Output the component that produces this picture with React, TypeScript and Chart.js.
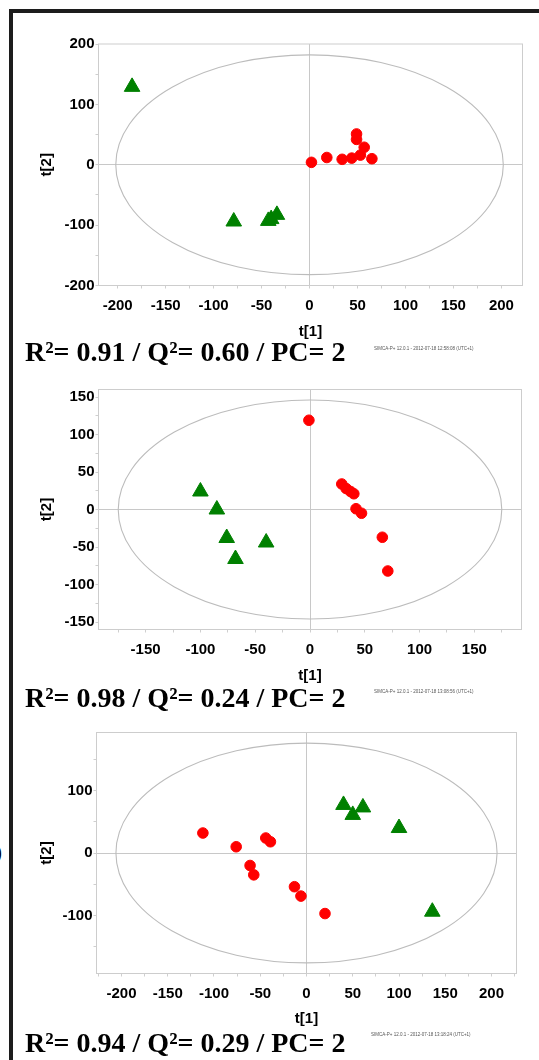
import React, { useEffect, useRef } from 'react';
import { Chart, registerables } from 'chart.js';

Chart.register(...registerables);

// ---------- Panel 1 data ----------
const P1_GREEN_X = [-185, -79, -43, -40, -34];
const P1_GREEN_Y = [129, -94, -93, -90, -83];
const P1_RED_X = [2, 18, 34, 44, 49, 49, 57, 53, 65];
const P1_RED_Y = [4, 12, 9, 11, 51, 42, 29, 16, 10];
const P1_X_RANGE = [-220, 222];
const P1_Y_RANGE = [-200, 200];
const P1_X_TICKS = [-200, -175, -150, -125, -100, -75, -50, -25, 0, 25, 50, 75, 100, 125, 150, 175, 200];
const P1_X_LABELS = [-200, -150, -100, -50, 0, 50, 100, 150, 200];
const P1_Y_TICKS = [-200, -150, -100, -50, 0, 50, 100, 150, 200];
const P1_Y_LABELS = [-200, -100, 0, 100, 200];
const P1_ELLIPSE = [202, 182];
const P1_STATS = 'R²= 0.91 / Q²= 0.60 / PC= 2';
const P1_STAMP = 'SIMCA-P+ 12.0.1 - 2012-07-18 12:58:08 (UTC+1)';

// ---------- Panel 2 data ----------
const P2_GREEN_X = [-100, -85, -76, -68, -40];
const P2_GREEN_Y = [24, 0, -38, -66, -44];
const P2_RED_X = [-1, 29, 33, 37, 40, 42, 47, 66, 71];
const P2_RED_Y = [119, 34, 28, 24, 21, 1, -5, -37, -82];
const P2_X_RANGE = [-193, 193];
const P2_Y_RANGE = [-160, 160];
const P2_X_TICKS = [-175, -150, -125, -100, -75, -50, -25, 0, 25, 50, 75, 100, 125, 150, 175];
const P2_X_LABELS = [-150, -100, -50, 0, 50, 100, 150];
const P2_Y_TICKS = [-150, -125, -100, -75, -50, -25, 0, 25, 50, 75, 100, 125, 150];
const P2_Y_LABELS = [-150, -100, -50, 0, 50, 100, 150];
const P2_ELLIPSE = [175, 146];
const P2_STATS = 'R²= 0.98 / Q²= 0.24 / PC= 2';
const P2_STAMP = 'SIMCA-P+ 12.0.1 - 2012-07-18 13:08:56 (UTC+1)';

// ---------- Panel 3 data ----------
const P3_GREEN_X = [40, 61, 50, 100, 136];
const P3_GREEN_Y = [77, 73, 61, 40, -94];
const P3_RED_X = [-112, -76, -44, -39, -61, -57, -13, -6, 20];
const P3_RED_Y = [32, 10, 24, 18, -20, -35, -54, -69, -97];
const P3_X_RANGE = [-227, 227];
const P3_Y_RANGE = [-193, 193];
const P3_X_TICKS = [-225, -200, -175, -150, -125, -100, -75, -50, -25, 0, 25, 50, 75, 100, 125, 150, 175, 200, 225];
const P3_X_LABELS = [-200, -150, -100, -50, 0, 50, 100, 150, 200];
const P3_Y_TICKS = [-150, -100, -50, 0, 50, 100, 150];
const P3_Y_LABELS = [-100, 0, 100];
const P3_ELLIPSE = [206, 176];
const P3_STATS = 'R²= 0.94 / Q²= 0.29 / PC= 2';
const P3_STAMP = 'SIMCA-P+ 12.0.1 - 2012-07-18 13:18:24 (UTC+1)';

const X_TITLE = 't[1]';
const Y_TITLE = 't[2]';
const SIDE_LABEL = 'c)';

const GREEN = '#008000';
const RED = '#ff0000';
const PAGE_W = 539;

const overlayPlugin = {
  id: 'pcaOverlay',
  beforeDatasetsDraw(chart: any, _args: any, opts: any) {
    const { ctx, chartArea: a, scales } = chart;
    const xs = scales.x;
    const ys = scales.y;
    ctx.save();
    const cx = xs.getPixelForValue(0);
    const cy = ys.getPixelForValue(0);
    const rx = xs.getPixelForValue(opts.ellipse[0]) - cx;
    const ry = cy - ys.getPixelForValue(opts.ellipse[1]);
    ctx.beginPath();
    ctx.ellipse(cx, cy, rx, ry, 0, 0, Math.PI * 2);
    ctx.strokeStyle = '#bcbcbc';
    ctx.lineWidth = 1.1;
    ctx.stroke();
    ctx.lineWidth = 1;
    ctx.strokeStyle = '#cdcdcd';
    ctx.strokeRect(a.left, a.top, a.right - a.left, a.bottom - a.top);
    ctx.restore();
  },
};

type PanelProps = {
  greenX: number[]; greenY: number[]; redX: number[]; redY: number[];
  xRange: number[]; yRange: number[];
  xTicks: number[]; xLabels: number[]; yTicks: number[]; yLabels: number[];
  ellipse: number[];
  top: number; height: number;
  area: { l: number; r: number; t: number; b: number };
  xTitlePad: number;
};

function Panel(p: PanelProps) {
  const ref = useRef<HTMLCanvasElement | null>(null);
  useEffect(() => {
    if (!ref.current) return;
    const tickFont = { family: '"Liberation Sans", Arial, sans-serif', size: 15, weight: 'bold' as const, lineHeight: 1.2 };
    const titleFont = { family: '"Liberation Sans", Arial, sans-serif', size: 15, weight: 'bold' as const, lineHeight: 1.2 };
    const gridColor = (c: any) => (c.tick && c.tick.value === 0 ? '#c8c8c8' : 'rgba(0,0,0,0)');
    const chart = new Chart(ref.current, {
      type: 'scatter',
      data: {
        datasets: [
          {
            data: p.redX.map((x, i) => ({ x, y: p.redY[i] })),
            pointStyle: 'circle',
            pointRadius: 5.3,
            pointBackgroundColor: RED,
            pointBorderColor: RED,
            pointBorderWidth: 1,
          },
          {
            data: p.greenX.map((x, i) => ({ x, y: p.greenY[i] })),
            pointStyle: 'triangle',
            pointRadius: 9,
            pointBackgroundColor: GREEN,
            pointBorderColor: GREEN,
            pointBorderWidth: 1,
          },
        ],
      },
      options: {
        animation: false,
        responsive: false,
        devicePixelRatio: 1,
        events: [],
        layout: {
          padding: { left: 0, right: PAGE_W - p.area.r, top: p.area.t - p.top, bottom: 0 },
        },
        plugins: {
          legend: { display: false },
          tooltip: { enabled: false },
          pcaOverlay: { ellipse: p.ellipse },
        } as any,
        scales: {
          x: {
            type: 'linear',
            position: 'bottom',
            min: p.xRange[0],
            max: p.xRange[1],
            afterBuildTicks: (s: any) => { s.ticks = p.xTicks.map((v) => ({ value: v })); },
            afterFit: (s: any) => { s.height = p.top + p.height - p.area.b; },
            border: { display: false },
            grid: { color: gridColor, tickColor: '#cfcfcf', tickLength: 3, lineWidth: 1 },
            ticks: {
              autoSkip: false,
              maxRotation: 0,
              padding: 8,
              color: '#000',
              font: tickFont,
              callback: (v: any) => (p.xLabels.includes(Number(v)) ? String(v) : ''),
            },
            title: { display: true, text: X_TITLE, color: '#000', font: titleFont, padding: { top: 0, bottom: p.xTitlePad } },
          },
          y: {
            type: 'linear',
            position: 'left',
            min: p.yRange[0],
            max: p.yRange[1],
            afterBuildTicks: (s: any) => { s.ticks = p.yTicks.map((v) => ({ value: v })); },
            afterFit: (s: any) => { s.width = p.area.l; },
            border: { display: false },
            grid: { color: gridColor, tickColor: '#cfcfcf', tickLength: 3, lineWidth: 1 },
            ticks: {
              autoSkip: false,
              padding: 1,
              color: '#000',
              font: tickFont,
              callback: (v: any) => (p.yLabels.includes(Number(v)) ? String(v) : ''),
            },
            title: { display: true, text: Y_TITLE, color: '#000', font: titleFont, padding: { top: 37.5, bottom: 0 } },
          },
        },
      } as any,
      plugins: [overlayPlugin],
    });
    return () => chart.destroy();
  }, []);
  return (
    <canvas
      ref={ref}
      width={PAGE_W}
      height={p.height}
      style={{ position: 'absolute', left: 0, top: p.top, width: PAGE_W, height: p.height }}
    />
  );
}

const statsStyle = (top: number): React.CSSProperties => ({
  position: 'absolute',
  left: 25,
  top,
  fontFamily: '"Liberation Serif", "Times New Roman", serif',
  fontWeight: 'bold',
  fontSize: 28,
  lineHeight: '28px',
  whiteSpace: 'nowrap',
  color: '#000',
});

const stampStyle = (left: number, centerY: number): React.CSSProperties => ({
  position: 'absolute',
  left,
  top: centerY - 5,
  height: 10,
  fontFamily: '"Liberation Sans", Arial, sans-serif',
  fontSize: 9,
  lineHeight: '10px',
  whiteSpace: 'nowrap',
  color: '#555',
  transform: 'scale(0.5)',
  transformOrigin: 'left center',
});

export default function App() {
  return (
    <div style={{ position: 'absolute', left: 0, top: 0, width: PAGE_W, height: 1060, overflow: 'hidden', background: '#fff' }}>
      <div
        style={{
          position: 'absolute', left: 9, top: 9, width: 700, height: 1200,
          border: '4px solid #1c1c1c', boxSizing: 'border-box',
        }}
      />
      <div
        style={{
          position: 'absolute', left: -30, top: 842, width: 32, textAlign: 'right', color: '#000',
          fontFamily: '"Liberation Serif", serif', fontWeight: 'bold', fontSize: 20, lineHeight: '20px',
        }}
      >
        {SIDE_LABEL}
      </div>
      <Panel
        greenX={P1_GREEN_X} greenY={P1_GREEN_Y} redX={P1_RED_X} redY={P1_RED_Y}
        xRange={P1_X_RANGE} yRange={P1_Y_RANGE}
        xTicks={P1_X_TICKS} xLabels={P1_X_LABELS} yTicks={P1_Y_TICKS} yLabels={P1_Y_LABELS}
        ellipse={P1_ELLIPSE}
        top={20} height={330}
        area={{ l: 98.5, r: 522.5, t: 44, b: 285.5 }}
        xTitlePad={9.5}
      />
      <Panel
        greenX={P2_GREEN_X} greenY={P2_GREEN_Y} redX={P2_RED_X} redY={P2_RED_Y}
        xRange={P2_X_RANGE} yRange={P2_Y_RANGE}
        xTicks={P2_X_TICKS} xLabels={P2_X_LABELS} yTicks={P2_Y_TICKS} yLabels={P2_Y_LABELS}
        ellipse={P2_ELLIPSE}
        top={370} height={320}
        area={{ l: 98.5, r: 521.5, t: 389.5, b: 629.5 }}
        xTitlePad={5}
      />
      <Panel
        greenX={P3_GREEN_X} greenY={P3_GREEN_Y} redX={P3_RED_X} redY={P3_RED_Y}
        xRange={P3_X_RANGE} yRange={P3_Y_RANGE}
        xTicks={P3_X_TICKS} xLabels={P3_X_LABELS} yTicks={P3_Y_TICKS} yLabels={P3_Y_LABELS}
        ellipse={P3_ELLIPSE}
        top={715} height={320}
        area={{ l: 96.5, r: 516.5, t: 732.5, b: 973.5 }}
        xTitlePad={7.3}
      />
      <div style={statsStyle(338)}>{P1_STATS}</div>
      <div style={statsStyle(683.5)}>{P2_STATS}</div>
      <div style={statsStyle(1028.5)}>{P3_STATS}</div>
      <div style={stampStyle(374, 348)}>{P1_STAMP}</div>
      <div style={stampStyle(374, 691)}>{P2_STAMP}</div>
      <div style={stampStyle(371, 1034)}>{P3_STAMP}</div>
    </div>
  );
}
